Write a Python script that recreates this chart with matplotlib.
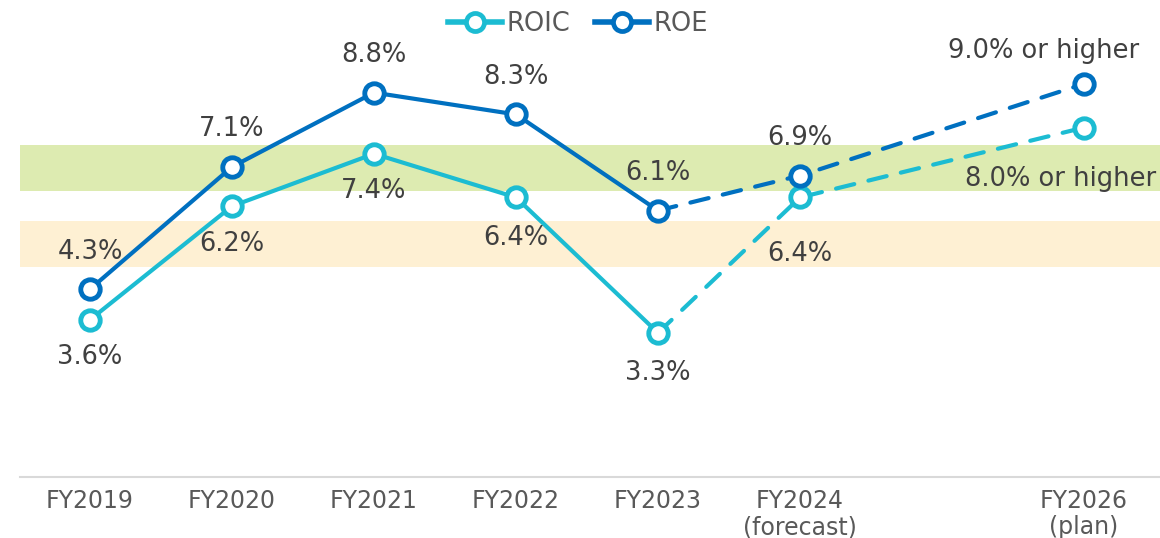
import matplotlib.pyplot as plt

plt.rcParams["font.family"] = ["DejaVu Sans", "Noto Sans CJK JP"]

# Fiscal years and their tick labels
years = [2019, 2020, 2021, 2022, 2023, 2024, 2026]
tick_labels = ["FY2019", "FY2020", "FY2021", "FY2022", "FY2023",
               "FY2024\n(forecast)", "FY2026\n(plan)"]

# Ratios in %
roe = [4.3, 7.1, 8.8, 8.3, 6.1, 6.9, 9.0]
roic = [3.6, 6.2, 7.4, 6.4, 3.3, 6.4, 8.0]
roe_text = ["4.3%", "7.1%", "8.8%", "8.3%", "6.1%", "6.9%", "9.0% or higher"]
roic_text = ["3.6%", "6.2%", "7.4%", "6.4%", "3.3%", "6.4%", "8.0% or higher"]

# Shaded reference ranges (%)
green_band = (6.55, 7.6)
orange_band = (4.8, 5.85)

# Label offsets in points (dx, dy, ha)
roe_off = [(0, 27, "center")] * 6 + [(-29, 24, "center")]
roic_off = [(0, -27, "center"), (0, -27, "center"), (0, -27, "center"),
            (0, -29, "center"), (0, -29, "center"), (0, -41, "center"),
            (-86, -37, "left")]

ROE_C = "#0070C0"
ROIC_C = "#1CBCD2"
TXT = "#404040"

x = [y - 2019 for y in years]

fig = plt.figure(figsize=(11.6, 5.38), dpi=100)
ax = fig.add_axes([20 / 1160, 1 - 477 / 538, 1 - 20 / 1160, 477 / 538])
ax.set_xlim(-0.493, 7.535)
ax.set_ylim(0, 10.92)

ax.axhspan(*green_band, color="#DDEBB1", lw=0, zorder=0)
ax.axhspan(*orange_band, color="#FEF0D3", lw=0, zorder=0)

for vals, col, name in [(roic, ROIC_C, "ROIC"), (roe, ROE_C, "ROE")]:
    # actuals solid, forecast / plan dashed
    ax.plot(x[:5], vals[:5], color=col, lw=3, solid_capstyle="round", zorder=3)
    ax.plot(x[4:], vals[4:], color=col, lw=3, ls=(0, (4.5, 3.5)),
            dash_capstyle="round", zorder=3)
    ax.plot(x, vals, color=col, ls="none", marker="o", ms=14, mew=3.5,
            mfc="white", zorder=4)
    # legend proxy
    ax.plot([], [], color=col, lw=4, marker="o", ms=13, mew=3.4,
            mfc="white", label=name)

for xi, v, t, (dx, dy, ha) in zip(x, roe, roe_text, roe_off):
    ax.annotate(t, (xi, v), xytext=(dx, dy), textcoords="offset points",
                ha=ha, va="center", fontsize=18.5, color=TXT, zorder=5)
for xi, v, t, (dx, dy, ha) in zip(x, roic, roic_text, roic_off):
    ax.annotate(t, (xi, v), xytext=(dx, dy), textcoords="offset points",
                ha=ha, va="center", fontsize=18.5, color=TXT, zorder=5)

ax.set_xticks(x)
ax.set_xticklabels(tick_labels, fontsize=17, color="#595959", linespacing=1.1)
ax.tick_params(axis="x", length=0, pad=9)
ax.set_yticks([])
for s in ["top", "left", "right"]:
    ax.spines[s].set_visible(False)
ax.spines["bottom"].set_color("#D9D9D9")
ax.spines["bottom"].set_linewidth(1.5)

fig.legend(loc="center", bbox_to_anchor=(578 / 1160, 1 - 24 / 538), ncol=2,
           frameon=False, fontsize=18.5, labelcolor="#595959", handlelength=2.1,
           handletextpad=0.15, columnspacing=1.0, borderpad=0)

fig.savefig("out.png", dpi=100)
